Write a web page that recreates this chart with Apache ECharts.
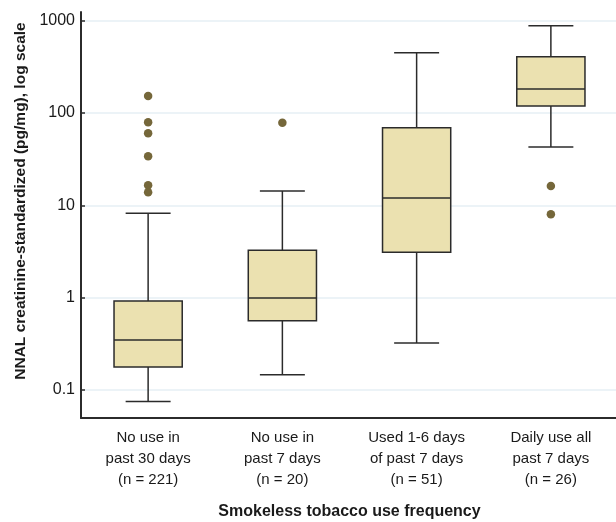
<!DOCTYPE html>
<html>
<head>
<meta charset="utf-8">
<script src="https://cdn.jsdelivr.net/npm/echarts@6/dist/echarts.min.js"></script>
<style>html,body{margin:0;padding:0;background:#fff}#c{width:616px;height:522px}</style>
</head>
<body>
<div id="c"></div>
<script>
var categories = ['No use in\npast 30 days\n(n = 221)', 'No use in\npast 7 days\n(n = 20)', 'Used 1-6 days\nof past 7 days\n(n = 51)', 'Daily use all\npast 7 days\n(n = 26)'];
var whiskerLow = [0.075, 0.146, 0.323, 42.9];
var q1 = [0.178, 0.563, 3.10, 119];
var median = [0.348, 0.99, 12.0, 182];
var q3 = [0.92, 3.26, 69.4, 407];
var whiskerHigh = [8.2, 14.3, 450, 883];
var outlierCategory = [0, 0, 0, 0, 0, 0, 1, 3, 3];
var outlierValue = [153, 79.4, 60.3, 34, 16.5, 13.9, 78.6, 16.2, 8.0];
var yTicks = [0.1, 1, 10, 100, 1000];

var boxData = categories.map(function (c, i) {
  return [i, whiskerLow[i], q1[i], median[i], q3[i], whiskerHigh[i]];
});
var outlierData = outlierValue.map(function (v, i) { return [outlierCategory[i], v]; });

var stroke = '#2b2b2b';
var chart = echarts.init(document.getElementById('c'), null, {renderer: 'canvas'});
chart.setOption({
  animation: false,
  backgroundColor: '#ffffff',
  grid: {left: 81, right: -2, top: 12, bottom: 104, containLabel: false, outerBoundsMode: 'none'},
  xAxis: {
    type: 'category',
    data: categories,
    name: 'Smokeless tobacco use frequency',
    nameLocation: 'middle',
    nameGap: 86,
    nameTextStyle: {fontFamily: 'Liberation Sans, Arial, sans-serif', fontWeight: 'bold', fontSize: 16, color: '#1a1a1a'},
    axisLine: {show: true, lineStyle: {color: stroke, width: 2}},
    axisTick: {show: false},
    splitLine: {show: false},
    axisLabel: {fontFamily: 'Liberation Sans, Arial, sans-serif', fontSize: 15, color: '#1a1a1a', lineHeight: 21, margin: 9, interval: 0}
  },
  yAxis: {
    type: 'log',
    logBase: 10,
    min: 0.0498,
    max: 1242,
    name: 'NNAL creatinine-standardized (pg/mg), log scale',
    nameLocation: 'middle',
    nameRotate: 90,
    nameGap: 52,
    nameTextStyle: {fontFamily: 'Liberation Sans, Arial, sans-serif', fontWeight: 'bold', fontSize: 15.5, color: '#1a1a1a', padding: [0, 0, 0, 28]},
    axisLine: {show: true, lineStyle: {color: stroke, width: 2}},
    axisTick: {show: true, inside: true, length: 4, lineStyle: {color: stroke, width: 1.5}, customValues: yTicks},
    axisLabel: {fontFamily: 'Liberation Sans, Arial, sans-serif', fontSize: 16, color: '#1a1a1a', margin: 6, customValues: yTicks,
      formatter: function (v) { return String(v); }},
    splitLine: {show: true, lineStyle: {color: '#e6eff5', width: 1.5}}
  },
  series: [
    {
      type: 'custom',
      data: boxData,
      encode: {x: 0, y: [1, 2, 3, 4, 5]},
      z: 3,
      renderItem: function (params, api) {
        var idx = api.value(0);
        var band = api.size([1, 0])[0];
        var bw = band * 0.508;
        var cw = band * 0.335;
        var pLow = api.coord([idx, api.value(1)]);
        var pQ1 = api.coord([idx, api.value(2)]);
        var pMed = api.coord([idx, api.value(3)]);
        var pQ3 = api.coord([idx, api.value(4)]);
        var pHigh = api.coord([idx, api.value(5)]);
        var cx = pMed[0];
        var ls = {stroke: stroke, lineWidth: 1.5, fill: null};
        return {
          type: 'group',
          children: [
            {type: 'line', shape: {x1: cx, y1: pHigh[1], x2: cx, y2: pQ3[1]}, style: ls},
            {type: 'line', shape: {x1: cx, y1: pQ1[1], x2: cx, y2: pLow[1]}, style: ls},
            {type: 'line', shape: {x1: cx - cw / 2, y1: pHigh[1], x2: cx + cw / 2, y2: pHigh[1]}, style: ls},
            {type: 'line', shape: {x1: cx - cw / 2, y1: pLow[1], x2: cx + cw / 2, y2: pLow[1]}, style: ls},
            {type: 'rect', shape: {x: cx - bw / 2, y: pQ3[1], width: bw, height: pQ1[1] - pQ3[1]},
              style: {fill: '#ebe1b0', stroke: stroke, lineWidth: 1.5}},
            {type: 'line', shape: {x1: cx - bw / 2, y1: pMed[1], x2: cx + bw / 2, y2: pMed[1]}, style: ls}
          ]
        };
      }
    },
    {
      type: 'scatter',
      data: outlierData,
      symbol: 'circle',
      symbolSize: 8.5,
      z: 4,
      itemStyle: {color: '#75673a', opacity: 1}
    }
  ]
});
</script>
</body>
</html>
